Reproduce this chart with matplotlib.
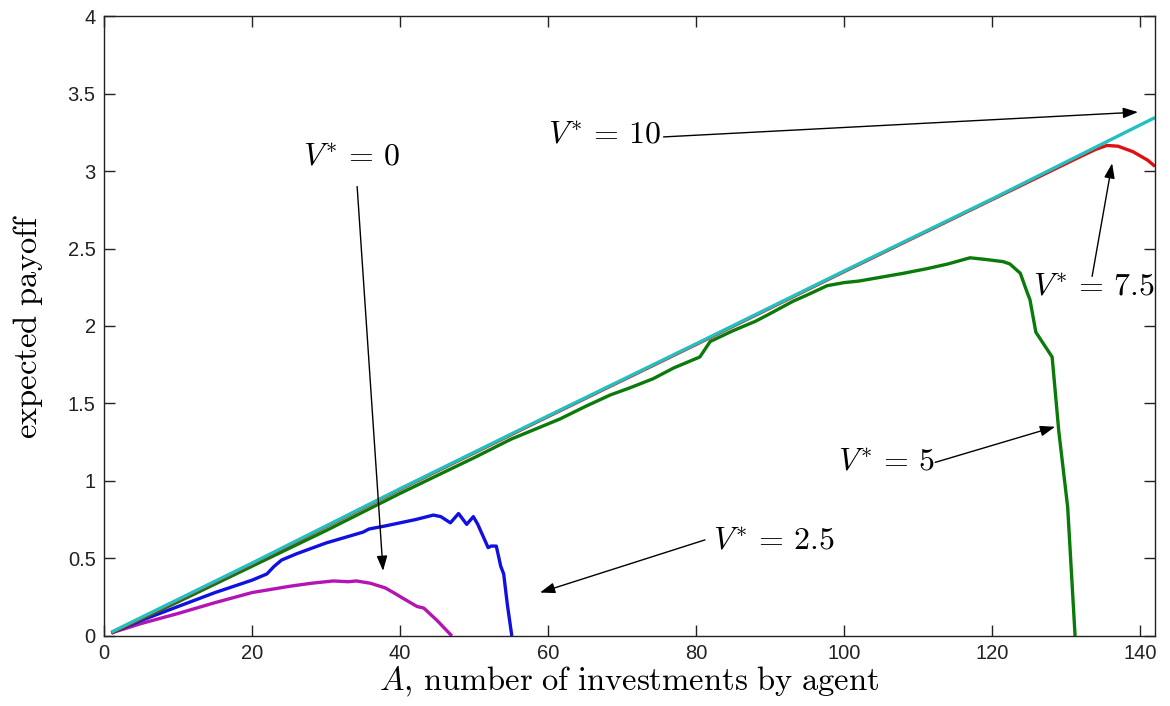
import matplotlib
matplotlib.use("Agg")
import matplotlib.pyplot as plt

plt.rcParams['mathtext.fontset'] = 'cm'
plt.rcParams['font.family'] = ['Liberation Sans', 'DejaVu Sans']

# ---- data ----
A_cyan = [1, 20, 40, 60, 80, 100, 120, 142]
y_cyan = [0.025, 0.47, 0.95, 1.42, 1.885, 2.355, 2.82, 3.345]

A_red = [1, 20, 40, 60, 80, 100, 120, 132, 134, 135.5, 137, 139, 141, 142]
y_red = [0.02, 0.466, 0.946, 1.416, 1.881, 2.351, 2.816, 3.095, 3.14, 3.165, 3.16, 3.125, 3.07, 3.03]

A_green = [1, 10, 20, 30, 40, 50, 55, 61.6, 65, 68.4, 71, 74.2, 77, 80.5, 81.9, 85, 88,
           90, 93.1, 95, 97.7, 100, 102, 104.4, 108, 111.2, 114, 117, 119, 121.5, 122.4,
           123.8, 124.7, 125.1, 125.9, 128.1, 129.0, 130.2, 131.2]
y_green = [0.02, 0.22, 0.45, 0.68, 0.92, 1.15, 1.27, 1.40, 1.48, 1.555, 1.60, 1.66, 1.73,
           1.80, 1.90, 1.97, 2.03, 2.08, 2.16, 2.20, 2.26, 2.28, 2.29, 2.31, 2.34, 2.37,
           2.40, 2.44, 2.43, 2.415, 2.40, 2.34, 2.22, 2.17, 1.96, 1.80, 1.32, 0.83, 0.0]

A_blue = [1, 5, 10, 15, 20, 22, 23, 24, 26, 30, 35, 35.8, 38, 40, 42, 44.5, 45.5, 46.8,
          47.9, 49, 49.9, 50.5, 51.9, 52.3, 53, 53.6, 54, 54.5, 55.1]
y_blue = [0.02, 0.1, 0.19, 0.28, 0.36, 0.40, 0.45, 0.49, 0.53, 0.60, 0.67, 0.69, 0.71,
          0.73, 0.75, 0.78, 0.77, 0.73, 0.79, 0.72, 0.77, 0.72, 0.57, 0.58, 0.58, 0.45,
          0.40, 0.2, 0.0]

A_mag = [1, 5, 10, 15, 20, 25, 28, 31, 33, 34.1, 36, 38, 39.1, 40.5, 42.3, 43.2, 45, 47]
y_mag = [0.02, 0.08, 0.145, 0.215, 0.28, 0.32, 0.34, 0.355, 0.35, 0.355, 0.34, 0.31,
         0.28, 0.24, 0.19, 0.18, 0.10, 0.0]

x_ticks = [0, 20, 40, 60, 80, 100, 120, 140]
y_ticks = [0, 0.5, 1, 1.5, 2, 2.5, 3, 3.5, 4]
y_ticklabels = ['0', '0.5', '1', '1.5', '2', '2.5', '3', '3.5', '4']

labels = [r'$V^{*}\,=\,10$', r'$V^{*}\,=\,0$', r'$V^{*}\,=\,7.5$', r'$V^{*}\,=\,5$', r'$V^{*}\,=\,2.5$']
label_pos = [(60.0, 3.23), (26.9, 3.09), (125.5, 2.25), (99.2, 1.12), (82.3, 0.61)]
arrow_tail = [(75.6, 3.22), (34.2, 2.90), (133.5, 2.32), (112.3, 1.12), (81.2, 0.62)]
arrow_tip = [(139.7, 3.38), (37.7, 0.42), (136.2, 3.05), (128.5, 1.35), (58.9, 0.28)]

# ---- figure ----
fig = plt.figure(figsize=(11.7, 7.06), dpi=100)
ax = fig.add_axes([0.0889, 0.0992, 0.8983, 0.8781])

lw = 2.4
ax.plot(A_mag, y_mag, color='#b414b4', lw=lw, solid_capstyle='butt')
ax.plot(A_blue, y_blue, color='#1010e0', lw=lw, solid_capstyle='butt')
ax.plot(A_green, y_green, color='#0a7a0a', lw=lw, solid_capstyle='butt')
ax.plot(A_red, y_red, color='#e01010', lw=lw, solid_capstyle='butt')
ax.plot(A_cyan, y_cyan, color='#22c0c0', lw=lw, solid_capstyle='butt')

ax.set_xlim(0, 142)
ax.set_ylim(0, 4)
ax.set_xticks(x_ticks)
ax.set_yticks(y_ticks)
ax.set_yticklabels(y_ticklabels)
ax.tick_params(direction='in', length=8, width=1, top=True, right=True,
               labelsize=14.5, labelcolor='#222222', color='#222222', pad=6)
for s in ax.spines.values():
    s.set_linewidth(1.0)
    s.set_color('#222222')

ax.set_xlabel(r'$A\mathrm{,\,number\ of\ investments\ by\ agent}$', fontsize=23.5, labelpad=1)
ax.set_ylabel(r'$\mathrm{expected\ payoff}$', fontsize=23.5)
ax.yaxis.set_label_coords(-0.056, 0.5)

for lab, pos, tail, tip in zip(labels, label_pos, arrow_tail, arrow_tip):
    ax.text(pos[0], pos[1], lab, fontsize=23, ha='left', va='center', clip_on=False)
    ax.annotate('', xy=tip, xytext=tail,
                arrowprops=dict(arrowstyle='-|>,head_length=0.9,head_width=0.32',
                                color='k', lw=1.0, shrinkA=0, shrinkB=0),
                annotation_clip=False)

fig.savefig('out.png', dpi=100, facecolor='white')
